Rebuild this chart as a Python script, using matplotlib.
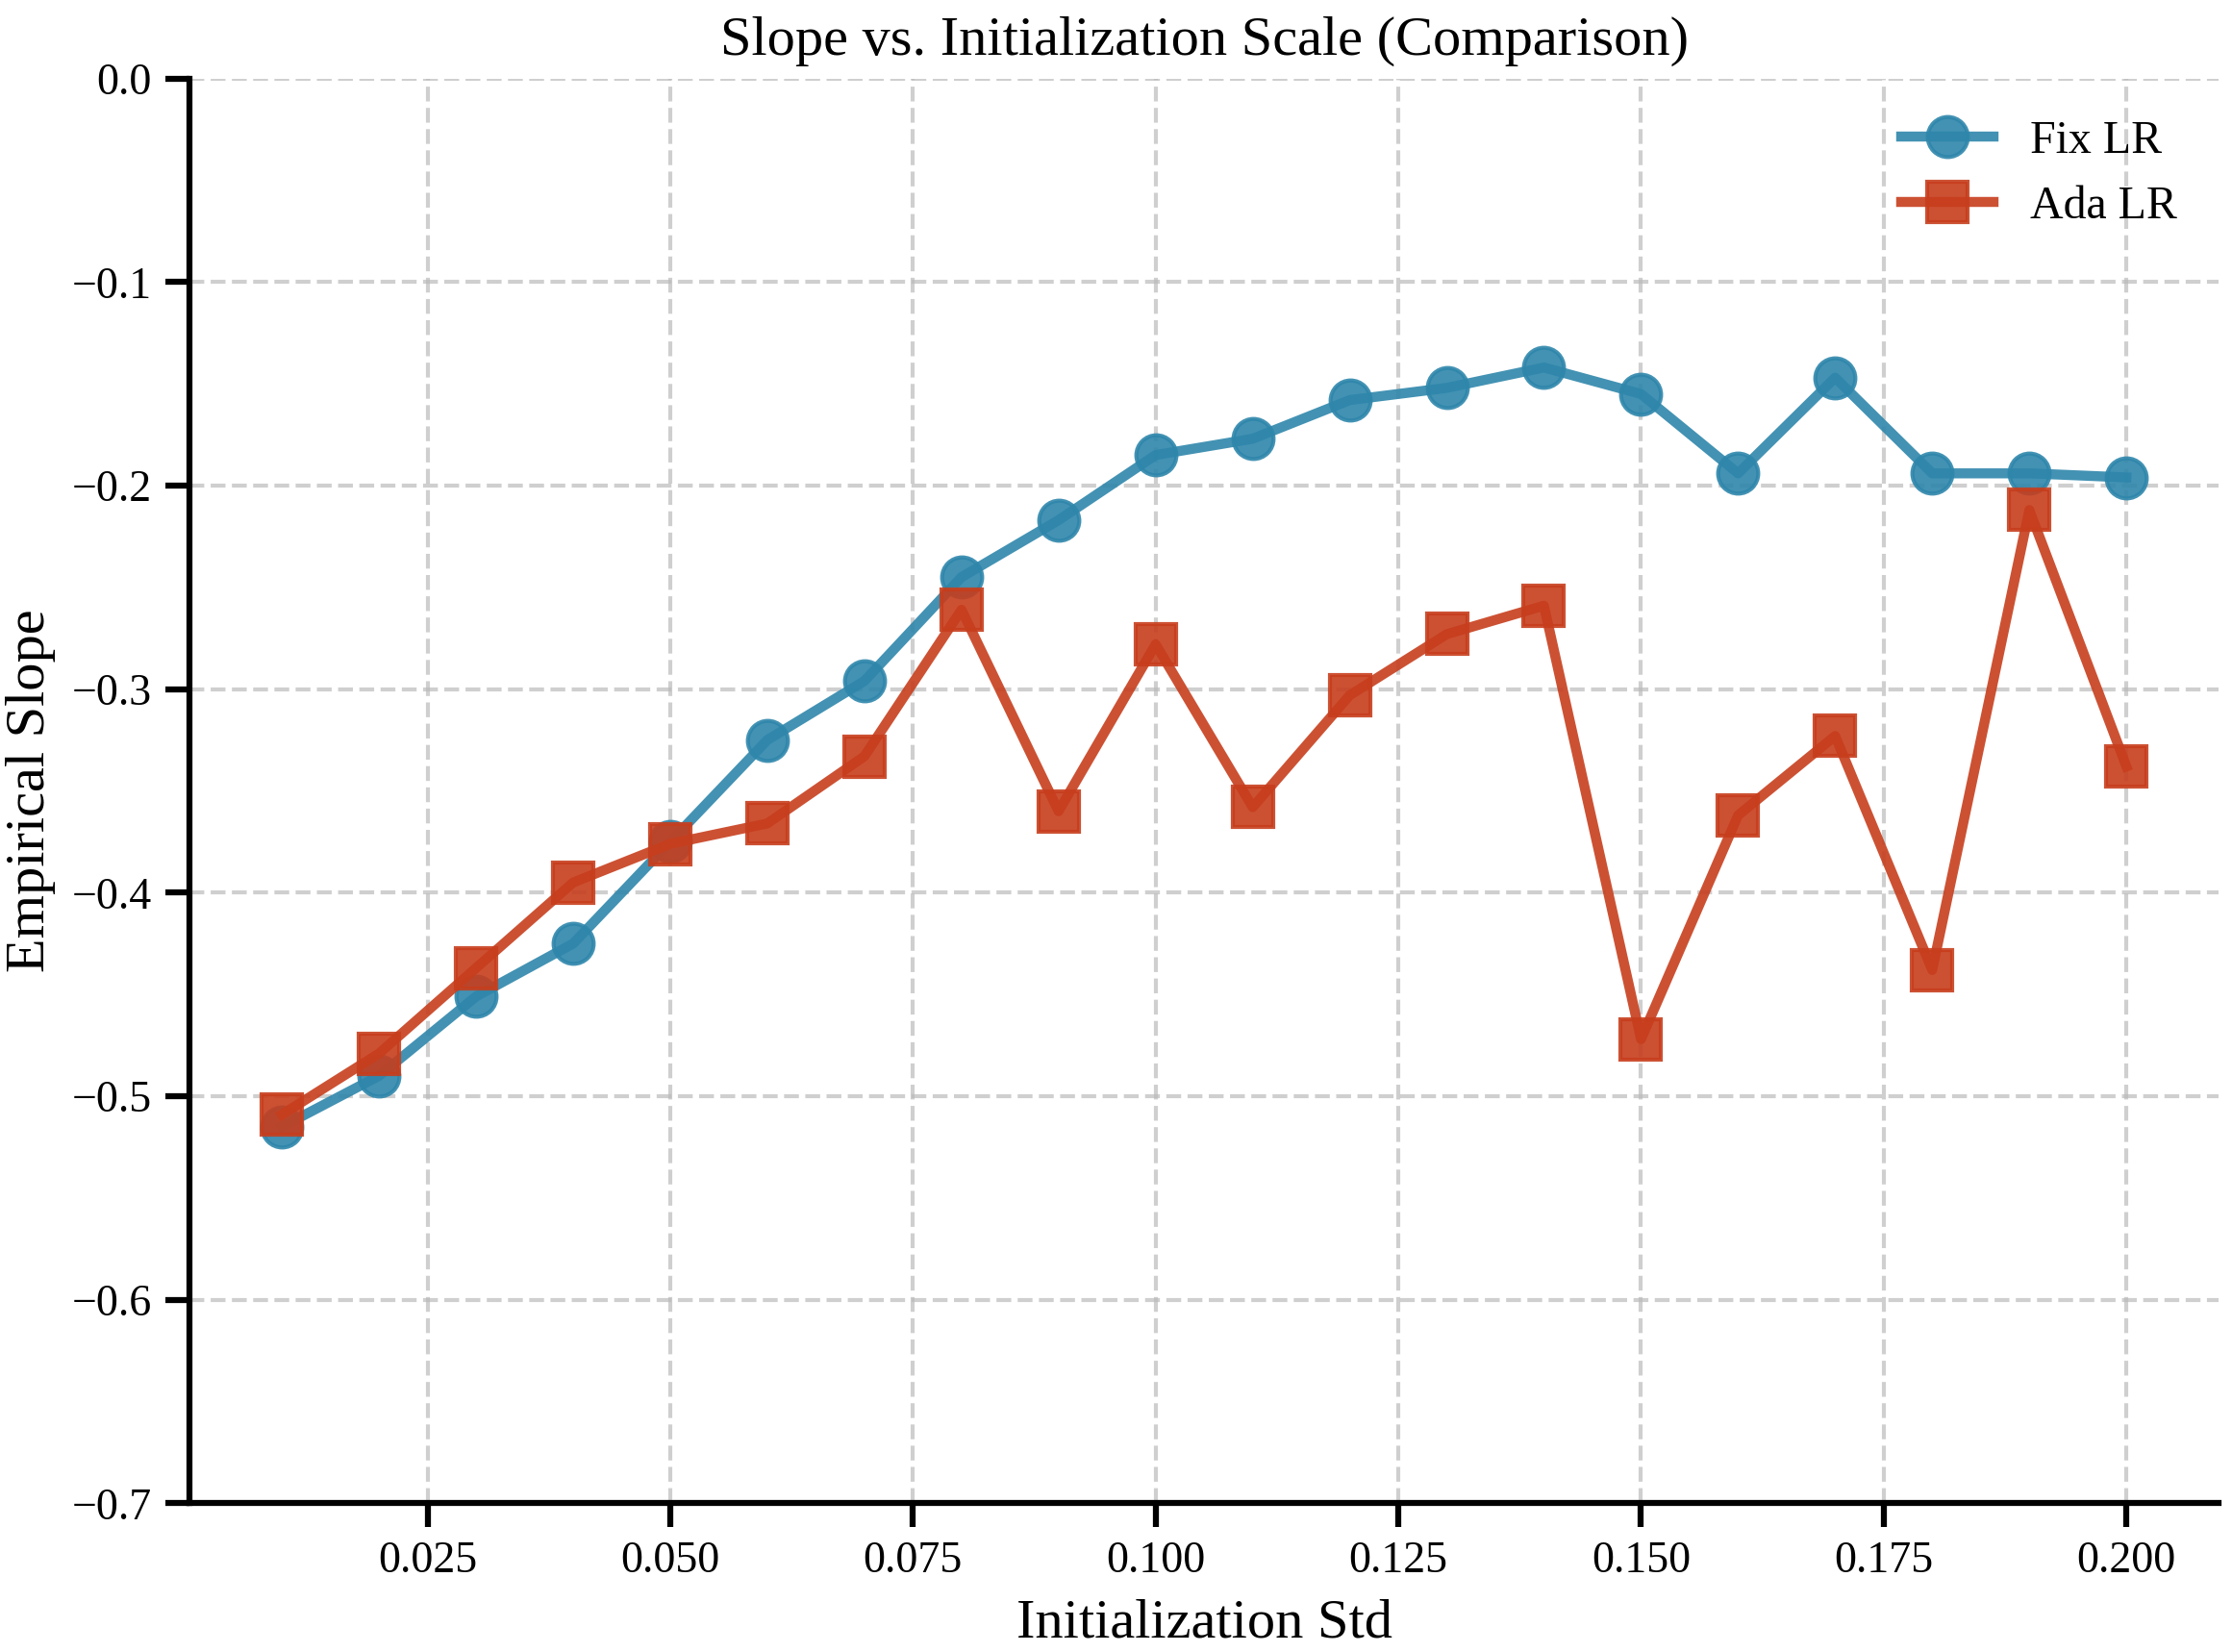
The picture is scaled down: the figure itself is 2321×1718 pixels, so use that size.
import matplotlib
matplotlib.use("Agg")
import matplotlib.pyplot as plt

plt.rcParams["font.family"] = ["Liberation Serif", "DejaVu Serif"]

# values
init_std = [0.01, 0.02, 0.03, 0.04, 0.05, 0.06, 0.07, 0.08, 0.09, 0.10,
            0.11, 0.12, 0.13, 0.14, 0.15, 0.16, 0.17, 0.18, 0.19, 0.20]
fix_lr = [-0.515, -0.490, -0.451, -0.425, -0.375, -0.325, -0.296, -0.245, -0.217, -0.185,
          -0.177, -0.158, -0.152, -0.142, -0.155, -0.194, -0.147, -0.194, -0.194, -0.196]
ada_lr = [-0.509, -0.479, -0.437, -0.395, -0.376, -0.366, -0.333, -0.261, -0.360, -0.278,
          -0.358, -0.303, -0.273, -0.259, -0.472, -0.362, -0.323, -0.438, -0.212, -0.338]

BLUE = "#2E86AB"
RED = "#C73E1D"


def main():
    fig, ax = plt.subplots(figsize=(2321 / 300, 1718 / 300), dpi=300)

    ax.plot(init_std, fix_lr, marker="o", color=BLUE, linewidth=2.5, markersize=10,
            alpha=0.9, label="Fix LR")
    ax.plot(init_std, ada_lr, marker="s", color=RED, linewidth=2.5, markersize=10,
            alpha=0.9, label="Ada LR")

    ax.set_ylim(-0.7, 0.0)
    ax.set_xticks([0.025, 0.050, 0.075, 0.100, 0.125, 0.150, 0.175, 0.200])
    ax.set_xticklabels(["0.025", "0.050", "0.075", "0.100", "0.125", "0.150", "0.175", "0.200"])
    ax.set_yticks([-0.7, -0.6, -0.5, -0.4, -0.3, -0.2, -0.1, 0.0])
    ax.set_yticklabels(["\u22120.7", "\u22120.6", "\u22120.5", "\u22120.4", "\u22120.3",
                        "\u22120.2", "\u22120.1", "0.0"])

    ax.set_title("Slope vs. Initialization Scale (Comparison)", fontsize=14)
    ax.set_xlabel("Initialization Std", fontsize=14)
    ax.set_ylabel("Empirical Slope", fontsize=14)
    ax.tick_params(labelsize=11, width=1.5, length=6)

    ax.grid(True, linestyle="--", color="#bbbbbb", alpha=0.7, linewidth=1.0)
    ax.spines["top"].set_visible(False)
    ax.spines["right"].set_visible(False)
    ax.spines["left"].set_linewidth(1.5)
    ax.spines["bottom"].set_linewidth(1.5)

    ax.legend(frameon=False, fontsize=11.5, loc="upper right")

    fig.subplots_adjust(left=0.085, right=0.994, top=0.9525, bottom=0.09)
    fig.savefig("out.png", dpi=300)
    plt.close(fig)


if __name__ == "__main__":
    main()
